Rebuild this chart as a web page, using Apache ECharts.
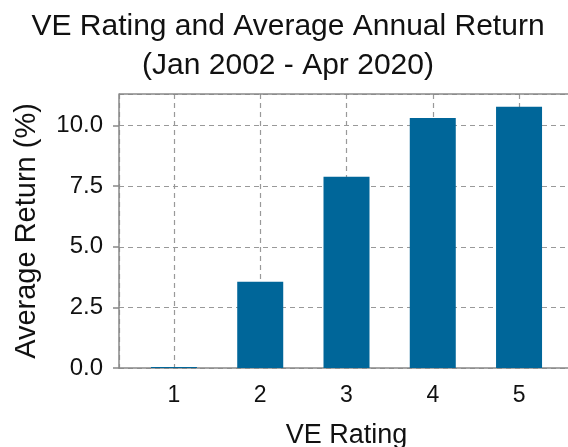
<!DOCTYPE html>
<html>
<head>
<meta charset="utf-8">
<script src="https://cdn.jsdelivr.net/npm/echarts@6/dist/echarts.min.js"></script>
<style>
html, body { margin: 0; padding: 0; background: #fff; }
#main { width: 568px; height: 447px; }
</style>
</head>
<body>
<div id="main"></div>
<script>
// VE rating 1..5, average annual return (%)
var ratings = [1, 2, 3, 4, 5];
var avgReturn = [0.04, 3.56, 7.89, 10.31, 10.77];
var yTicks = [0, 2.5, 5, 7.5, 10];

var myChart = echarts.init(document.getElementById('main'));
var fontFam = 'Liberation Sans, Arial, sans-serif';

var option = {
	backgroundColor: '#fff',
	animation: false,
	title: {
		text: 'VE Rating and Average Annual Return\n(Jan 2002 - Apr 2020)',
		left: 283,
		top: 2,
		padding: 5,
		textAlign: 'center',
		textStyle: {
			fontFamily: fontFam,
			fontWeight: 'normal',
			fontSize: 30,
			lineHeight: 39,
			color: '#111'
		}
	},
	grid: {
		left: 119,
		top: 94,
		width: 455,
		bottom: 79,
		outerBoundsMode: 'none',
		containLabel: false,
		show: false
	},
	xAxis: {
		type: 'value',
		min: 0.363,
		max: 5.637,
		name: 'VE Rating',
		nameLocation: 'middle',
		nameGap: 54,
		nameTextStyle: { fontFamily: fontFam, fontSize: 27, color: '#111' },
		axisLine: { show: true, lineStyle: { color: '#888', width: 1.5 } },
		axisTick: { show: false },
		axisLabel: {
			showMinLabel: false,
			showMaxLabel: false,
			margin: 16,
			fontFamily: fontFam,
			fontSize: 23,
			color: '#111',
			formatter: function (v) { return ratings.indexOf(v) >= 0 ? String(v) : ''; }
		},
		splitLine: {
			show: true,
			lineStyle: { color: '#999', type: [5, 4], width: 1.2 }
		}
	},
	yAxis: {
		type: 'value',
		min: 0,
		max: 11.3,
		interval: 2.5,
		name: 'Average Return (%)',
		nameLocation: 'middle',
		nameGap: 78,
		nameTextStyle: { fontFamily: fontFam, fontSize: 29, color: '#111' },
		axisLine: { show: true, lineStyle: { color: '#888', width: 1.5 } },
		axisTick: { show: true, inside: false, length: 6, lineStyle: { color: '#888', width: 1.5 } },
		axisLabel: {
			showMaxLabel: false,
			margin: 16,
			fontFamily: fontFam,
			fontSize: 24,
			color: '#111',
			formatter: function (v) { return yTicks.indexOf(v) >= 0 ? v.toFixed(1) : ''; }
		},
		splitLine: {
			show: true,
			lineStyle: { color: '#999', type: [5, 4], width: 1.2 }
		}
	},
	series: [
		{
			type: 'bar',
			barWidth: 46,
			itemStyle: { color: '#006699' },
			data: ratings.map(function (r, i) { return [r, avgReturn[i]]; })
		}
	]
};

myChart.setOption(option);

// grey top frame line of the plot area, like the reference
var topLeft = myChart.convertToPixel({ gridIndex: 0 }, [0.363, 11.3]);
myChart.setOption({
	graphic: [{
		type: 'line',
		shape: { x1: topLeft[0], y1: topLeft[1], x2: 568, y2: topLeft[1] },
		style: { stroke: '#888', lineWidth: 1.5 },
		z: 10
	}]
});
</script>
</body>
</html>
